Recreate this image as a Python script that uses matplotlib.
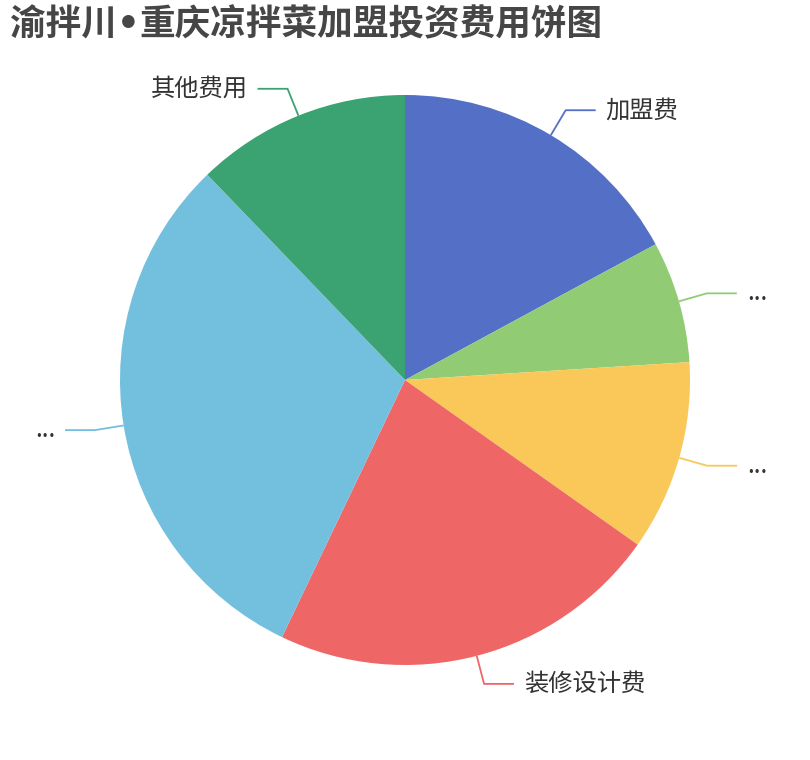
import numpy as np
import matplotlib
matplotlib.use("Agg")
import matplotlib.pyplot as plt

plt.rcParams['font.family'] = ['Noto Sans CJK SC', 'DejaVu Sans']

title = "渝拌川•重庆凉拌菜加盟投资费用饼图"
labels = ["加盟费", "...", "...", "装修设计费", "...", "其他费用"]
values = [17.1, 6.9, 10.8, 22.3, 30.7, 12.2]
colors = ["#5470c6", "#91cc75", "#fac858", "#ee6666", "#73c0de", "#3ba272"]

W, H = 810, 760
fig = plt.figure(figsize=(W / 100, H / 100), dpi=100)
ax = fig.add_axes([0, 0, 1, 1])

cx, cy, R = 405, 380, 285
wedges, _ = ax.pie(values, colors=colors, startangle=90, counterclock=False,
                   center=(cx, cy), radius=R, frame=True,
                   wedgeprops=dict(linewidth=0))
ax.set_xlim(0, W)
ax.set_ylim(0, H)
ax.set_aspect('equal')
ax.axis('off')

L1, L2, gap = 29, 30, 10
for w, lab, col in zip(wedges, labels, colors):
    mid = np.deg2rad((w.theta1 + w.theta2) / 2)
    dx, dy = np.cos(mid), np.sin(mid)
    x0, y0 = cx + R * dx, cy + R * dy
    x1, y1 = cx + (R + L1) * dx, cy + (R + L1) * dy
    s = 1 if dx >= 0 else -1
    x2 = x1 + s * L2
    ax.plot([x0, x1, x2], [y0, y1, y1], color=col, lw=1.3, solid_capstyle='butt')
    ax.text(x2 + s * gap, y1, lab, ha='left' if s > 0 else 'right', va='center',
            fontsize=17.5, color='#333333')

# title: bullet drawn narrow (Latin font), CJK parts in Noto Sans CJK
left, right = title.split("•")
parts = [(left, ['Noto Sans CJK SC']), ("•", ['DejaVu Sans']), (right, ['Noto Sans CJK SC'])]
renderer = fig.canvas.get_renderer()
x = 10
ty = H - 25
for txt, fam in parts:
    t = ax.text(x, ty, txt, fontsize=25.7, fontweight='bold', color='#464646',
                ha='left', va='center', family=fam)
    bb = t.get_window_extent(renderer=renderer)
    x += bb.width

fig.savefig("out.png", dpi=100)
